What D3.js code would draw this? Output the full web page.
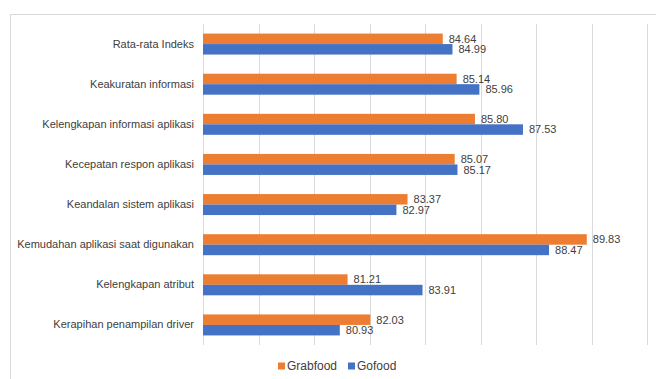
<!DOCTYPE html>
<html>
<head>
<meta charset="utf-8">
<script src="https://cdn.jsdelivr.net/npm/d3@7"></script>
<style>
  body { margin: 0; background: #fff; }
  svg { display: block; }
</style>
</head>
<body>
<svg id="drawing_region"></svg>
<script>
var width = 656;
var height = 379;

// data
const categories = [
  'Rata-rata Indeks',
  'Keakuratan informasi',
  'Kelengkapan informasi aplikasi',
  'Kecepatan respon aplikasi',
  'Keandalan sistem aplikasi',
  'Kemudahan aplikasi saat digunakan',
  'Kelengkapan atribut',
  'Kerapihan penampilan driver'
];
const seriesNames = ['Grabfood', 'Gofood'];
const grabfood = [84.64, 85.14, 85.80, 85.07, 83.37, 89.83, 81.21, 82.03];
const gofood   = [84.99, 85.96, 87.53, 85.17, 82.97, 88.47, 83.91, 80.93];
const gridTicks = [76, 78, 80, 82, 84, 86, 88, 90, 92];
const colors = ['#ED7D31', '#4472C4'];

const values = [grabfood, gofood];
const font = '"Liberation Sans", Arial, sans-serif';

var svg = d3.select('#drawing_region')
      .attr('width', width)
      .attr('height', height);

// chart frame (cut off on right and bottom)
svg.append('rect')
      .attr('x', 10.5).attr('y', 14.5)
      .attr('width', 700).attr('height', 400)
      .attr('fill', 'none')
      .attr('stroke', '#d9d9d9');

const xscale = d3.scaleLinear()
      .domain([76, 92])
      .range([203, 647]);

const yscale = d3.scaleBand()
      .domain(categories)
      .range([24, 345])
      .paddingInner(0.477)
      .paddingOuter(0.2385);

const sub = d3.scaleBand()
      .domain(seriesNames)
      .range([0, yscale.bandwidth()]);

// gridlines
svg.append('g')
      .selectAll('line')
      .data(gridTicks)
      .enter()
      .append('line')
      .attr('x1', d => Math.round(xscale(d)) + 0.5)
      .attr('x2', d => Math.round(xscale(d)) + 0.5)
      .attr('y1', 24)
      .attr('y2', 345)
      .attr('stroke', '#d9d9d9');

// bars
const groups = svg.append('g')
      .selectAll('g')
      .data(categories)
      .enter()
      .append('g')
      .attr('transform', d => `translate(0, ${yscale(d)})`);

seriesNames.forEach((s, si) => {
  groups.append('rect')
        .attr('x', xscale(76))
        .attr('y', sub(s))
        .attr('width', (d, i) => xscale(values[si][i]) - xscale(76))
        .attr('height', sub.bandwidth())
        .attr('fill', colors[si]);

  groups.append('text')
        .attr('x', (d, i) => xscale(values[si][i]) + 6)
        .attr('y', sub(s) + sub.bandwidth() / 2)
        .attr('dy', '0.35em')
        .attr('font-family', font)
        .attr('font-size', 11)
        .attr('fill', '#404040')
        .text((d, i) => values[si][i].toFixed(2));
});

// category labels
const yAxis = d3.axisLeft(yscale).tickSize(0).tickPadding(9);
svg.append('g')
      .attr('transform', `translate(${xscale(76)}, 0)`)
      .call(yAxis)
      .call(g => g.select('.domain').remove())
      .selectAll('text')
      .attr('font-family', font)
      .attr('font-size', 11)
      .attr('fill', '#404040');

// legend
const legend = svg.append('g')
      .attr('transform', 'translate(278, 366)');
const legX = [0, 70];
seriesNames.forEach((s, i) => {
  legend.append('rect')
        .attr('x', legX[i]).attr('y', -3.5)
        .attr('width', 7).attr('height', 7)
        .attr('fill', colors[i]);
  legend.append('text')
        .attr('x', legX[i] + 9).attr('y', 0)
        .attr('dy', '0.35em')
        .attr('font-family', font)
        .attr('font-size', 12)
        .attr('fill', '#404040')
        .text(s);
});
</script>
</body>
</html>
